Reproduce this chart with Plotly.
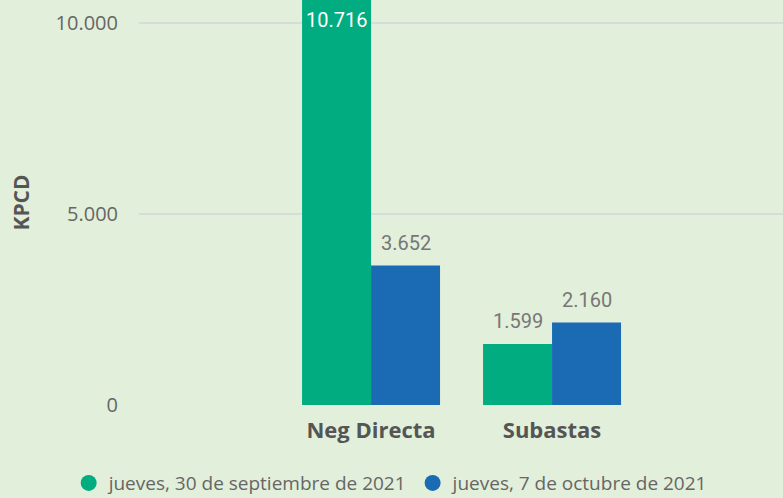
import plotly.graph_objects as go

categories = ["Neg Directa", "Subastas"]
series_names = ["jueves, 30 de septiembre de 2021", "jueves, 7 de octubre de 2021"]
values_sep30 = [10716, 1599]
values_oct07 = [3652, 2160]
colors = ["#01AC80", "#1A6BB4"]
y_ticks = [0, 5000, 10000]

y_top = 10610
bargap = 0.2376

fig = go.Figure()
series = [values_sep30, values_oct07]
for name, vals, col in zip(series_names, series, colors):
    fig.add_trace(go.Bar(x=categories, y=vals, name=name, marker_color=col,
                         marker_line_width=0, showlegend=False, hoverinfo="skip"))
    # legend entries with circle symbols
    fig.add_trace(go.Scatter(x=[None], y=[None], mode="markers", name=name,
                             marker=dict(symbol="circle", size=20, color=col)))

# data labels
bw = (1 - bargap) / len(series)
def fmt(v):
    return f"{v:,}".replace(",", ".")
for si, vals in enumerate(series):
    for ci, v in enumerate(vals):
        xc = ci - (1 - bargap) / 2 + bw * (si + 0.5)
        if v > y_top:
            fig.add_annotation(x=xc, y=y_top, xref="x", yref="y", text=fmt(v),
                               showarrow=False, yanchor="top", yshift=-6,
                               font=dict(family="Roboto", size=20, color="#FFFFFF"))
        else:
            fig.add_annotation(x=xc, y=v, xref="x", yref="y", text=fmt(v),
                               showarrow=False, yanchor="bottom", yshift=9,
                               font=dict(family="Roboto", size=20, color="#777777"))

fig.update_layout(
    width=783, height=498,
    margin=dict(l=139, r=0, t=0, b=93),
    paper_bgcolor="#E2EFDA", plot_bgcolor="#E2EFDA",
    barmode="group", bargap=bargap, bargroupgap=0,
    separators=",.",
    font=dict(family="Open Sans", color="#666666"),
    legend=dict(orientation="h", xref="container", yref="container",
                x=0.0877, xanchor="left", y=0.03, yanchor="middle",
                font=dict(family="Open Sans", size=19, color="#666666"),
                itemwidth=30, tracegroupgap=0),
    xaxis=dict(range=[-1.282, 2.276], showgrid=False, zeroline=False, showline=False,
               ticks="", ticklabelstandoff=10,
               tickfont=dict(family="Open Sans", size=22, color="#555555", weight="bold")),
    yaxis=dict(range=[0, y_top], tickvals=y_ticks, tickformat=",d",
               showgrid=True, gridcolor="#D6DBDD", gridwidth=2, zeroline=False,
               showline=False, ticks="", ticklabelstandoff=20,
               tickfont=dict(family="Open Sans", size=20, color="#666666"),
               title=dict(text="KPCD", standoff=20,
                          font=dict(family="Open Sans", size=21, color="#555555", weight="bold"))),
)

fig.write_html("out.html")
